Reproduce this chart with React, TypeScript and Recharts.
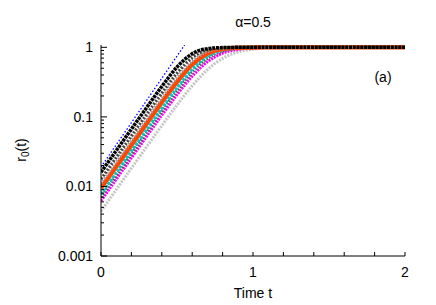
import React from 'react';
import { LineChart, Line, XAxis, YAxis } from 'recharts';

// time grid shared by all runs
const times = [0, 0.1, 0.2, 0.3, 0.4, 0.5, 0.6, 0.7, 0.8, 0.9, 1.0, 1.1, 1.2, 1.3, 1.4, 1.5, 2.0];

// r0(t) for each run (top band to bottom band)
const runBlack = [0.016, 0.0327, 0.0667, 0.1357, 0.2736, 0.5206, 0.81, 0.957, 0.992, 0.9989, 0.9998, 1, 1, 1, 1, 1, 1];
const runDarkGray = [0.0128, 0.0261, 0.0533, 0.1086, 0.2193, 0.4251, 0.711, 0.9136, 0.981, 0.996, 0.9993, 1, 1, 1, 1, 1, 1];
const runGray = [0.011, 0.0224, 0.0458, 0.0932, 0.1882, 0.3667, 0.633, 0.864, 0.9637, 0.9915, 0.9984, 0.9997, 1, 1, 1, 1, 1];
const runOrange = [0.0095, 0.0194, 0.0396, 0.0806, 0.163, 0.3196, 0.5672, 0.8149, 0.9444, 0.9857, 0.9965, 0.9991, 0.9998, 1, 1, 1, 1];
const runCyan = [0.0077, 0.0157, 0.0321, 0.0653, 0.1322, 0.2615, 0.4797, 0.738, 0.908, 0.9735, 0.993, 0.9983, 0.9996, 1, 1, 1, 1];
const runCharcoal = [0.007, 0.0143, 0.0292, 0.0594, 0.1201, 0.2377, 0.4393, 0.692, 0.8796, 0.962, 0.9893, 0.9972, 0.9993, 1, 1, 1, 1];
const runMagenta = [0.0062, 0.01265, 0.0258, 0.0524, 0.1057, 0.2084, 0.385, 0.6197, 0.8224, 0.933, 0.9772, 0.9925, 0.9977, 0.9993, 1, 1, 1];
const runLightGray = [0.0044, 0.00897, 0.0183, 0.0371, 0.0749, 0.1482, 0.2793, 0.4759, 0.6923, 0.8538, 0.9397, 0.9766, 0.9918, 0.997, 0.999, 1, 1];

// blue dotted guide (pure exponential)
const guideTimes = [0, 0.55];
const guideValues = [0.019, 1.08];

const xTicks = [0, 0.2, 0.4, 0.6, 0.8, 1, 1.2, 1.4, 1.6, 1.8, 2];
const xLabels = [0, 1, 2];
const yTicks = [
  0.001, 0.002, 0.003, 0.004, 0.005, 0.006, 0.007, 0.008, 0.009,
  0.01, 0.02, 0.03, 0.04, 0.05, 0.06, 0.07, 0.08, 0.09,
  0.1, 0.2, 0.3, 0.4, 0.5, 0.6, 0.7, 0.8, 0.9, 1,
];

const runs = [
  { key: 'lightgray', values: runLightGray, color: '#c4c4c4', width: 3, dash: '2 1.2' },
  { key: 'magenta', values: runMagenta, color: '#ff00ff', width: 3, dash: '2 1' },
  { key: 'charcoal', values: runCharcoal, color: '#555555', width: 3, dash: '1.5 1.5' },
  { key: 'cyan', values: runCyan, color: '#00c8c8', width: 3, dash: '3 1' },
  { key: 'orange', values: runOrange, color: '#ff4500', width: 4.5, dash: undefined },
  { key: 'gray', values: runGray, color: '#9a9a9a', width: 3, dash: '1.5 1.5' },
  { key: 'darkgray', values: runDarkGray, color: '#444444', width: 3, dash: '2 1.5' },
  { key: 'black', values: runBlack, color: '#000000', width: 3.5, dash: '3 0.8' },
];

const data = times.map((t, i) => {
  const row: any = { t };
  runs.forEach((r) => (row[r.key] = r.values[i]));
  return row;
});
const guide = guideTimes.map((t, i) => ({ t, guide: guideValues[i] }));

const font = "'Liberation Sans', Arial, Helvetica, sans-serif";

const isDecade = (v: number) => {
  const l = Math.log10(v);
  return Math.abs(l - Math.round(l)) < 1e-6;
};

const BottomTick = (props: any) => {
  const { x, y, payload } = props;
  const axisY = y - 11;
  const show = xLabels.some((l) => Math.abs(l - payload.value) < 1e-9);
  return (
    <g>
      <line x1={x} x2={x} y1={axisY} y2={axisY - 4} stroke="#000" />
      {show && (
        <text x={x} y={y} dy="0.71em" textAnchor="middle" fontSize={14} fontFamily={font} fill="#000">
          {payload.value}
        </text>
      )}
    </g>
  );
};

const TopTick = (props: any) => {
  const { x, y } = props;
  return <line x1={x} x2={x} y1={y} y2={y + 4} stroke="#000" />;
};

const LeftTick = (props: any) => {
  const { x, y, payload } = props;
  const axisX = x + 8;
  const major = isDecade(payload.value);
  return (
    <g>
      <line x1={axisX} x2={axisX + (major ? 6 : 3)} y1={y} y2={y} stroke="#000" />
      {major && (
        <text x={x} y={y} dy="0.35em" textAnchor="end" fontSize={14} fontFamily={font} fill="#000">
          {String(payload.value)}
        </text>
      )}
    </g>
  );
};

const RightTick = (props: any) => {
  const { x, y, payload } = props;
  const major = isDecade(payload.value);
  return <line x1={x} x2={x - (major ? 6 : 3)} y1={y} y2={y} stroke="#000" />;
};

export default function App() {
  return (
    <div style={{ position: 'relative', width: 436, height: 305, fontFamily: font, color: '#000' }}>
      <style>{'body{margin:0;background:#fff}'}</style>
      <LineChart width={436} height={305} data={data} margin={{ top: 45, right: 31, bottom: 0, left: 41 }}>
        <XAxis
          dataKey="t"
          type="number"
          domain={[0, 2]}
          allowDataOverflow
          ticks={xTicks}
          interval={0}
          height={49}
          tickSize={0}
          tickMargin={11}
          tickLine={false}
          axisLine={{ stroke: '#000' }}
          tick={<BottomTick />}
        />
        <XAxis
          xAxisId="top"
          orientation="top"
          type="number"
          domain={[0, 2]}
          allowDataOverflow
          ticks={xTicks}
          interval={0}
          height={0}
          tickSize={0}
          tickMargin={0}
          tickLine={false}
          axisLine={{ stroke: '#000' }}
          tick={<TopTick />}
        />
        <YAxis
          type="number"
          scale="log"
          domain={[0.001, 1.08]}
          allowDataOverflow
          ticks={yTicks}
          interval={0}
          width={60}
          tickSize={0}
          tickMargin={8}
          tickLine={false}
          axisLine={{ stroke: '#000' }}
          tick={<LeftTick />}
        />
        <YAxis
          yAxisId="right"
          orientation="right"
          type="number"
          scale="log"
          domain={[0.001, 1.08]}
          allowDataOverflow
          ticks={yTicks}
          interval={0}
          width={0}
          tickSize={0}
          tickMargin={0}
          tickLine={false}
          axisLine={{ stroke: '#000' }}
          tick={<RightTick />}
        />
        {runs.map((r) => (
          <Line
            key={r.key}
            dataKey={r.key}
            type="monotone"
            stroke={r.color}
            strokeWidth={r.width}
            strokeDasharray={r.dash}
            dot={false}
            isAnimationActive={false}
          />
        ))}
        <Line
          data={guide}
          dataKey="guide"
          type="linear"
          stroke="#0000ff"
          strokeWidth={1.3}
          strokeDasharray="1.5 2"
          dot={false}
          isAnimationActive={false}
        />
      </LineChart>
      <div style={{ position: 'absolute', left: 253, top: 22, transform: 'translate(-50%,-50%)', fontSize: 14, whiteSpace: 'nowrap' }}>
        α=0.5
      </div>
      <div style={{ position: 'absolute', left: 383, top: 77, transform: 'translate(-50%,-50%)', fontSize: 14 }}>
        (a)
      </div>
      <div style={{ position: 'absolute', left: 253, top: 293, transform: 'translate(-50%,-50%)', fontSize: 14, whiteSpace: 'nowrap' }}>
        Time t
      </div>
      <div
        style={{
          position: 'absolute',
          left: 22,
          top: 150,
          transform: 'translate(-50%,-50%) rotate(-90deg)',
          fontSize: 14,
          whiteSpace: 'nowrap',
        }}
      >
        r<sub style={{ fontSize: 10 }}>0</sub>(t)
      </div>
    </div>
  );
}
